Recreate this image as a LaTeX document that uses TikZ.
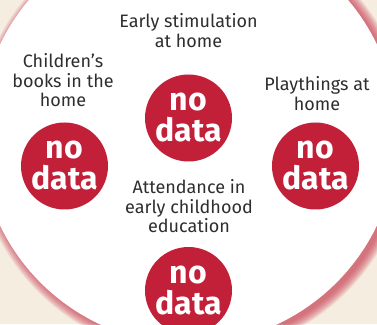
\documentclass[tikz,border=0pt]{standalone}
\usepackage{fontspec}
\setmainfont{Fira Sans}
\usepackage{tikz}
\usetikzlibrary{positioning}
\definecolor{paper}{HTML}{F6EDE1}
\definecolor{nored}{HTML}{C21F38}
\definecolor{shadowred}{HTML}{C8384E}
\definecolor{textgray}{HTML}{2E2E2E}

\begin{document}
\begin{tikzpicture}
	[x=1pt, y=1pt, inner sep=0pt,
	nodata/.style	= {circle, fill=nored, text=white, minimum size=87pt, inner sep=0pt, align=center, font=\fontsize{32}{31}\selectfont\bfseries},
	caption/.style	= {text=textgray, align=center, anchor=north, font=\fontsize{18}{19.8}\selectfont},
	ring/.style	= {fill=shadowred, opacity=0.1}]

	\useasboundingbox (0,0) rectangle (377,324);
	\fill[paper] (0,0) rectangle (377,324);

	% soft shadow of the big disc
	\foreach \k in {1,...,10}
		\fill[ring] (192.5,186) circle ({208+\k});
	\fill[white] (188.5,189) circle (209);

	\node at (188.5,206)	[nodata]	(stim)	{no\\data};
	\node at (64.5,158)	[nodata]	(books)	{no\\data};
	\node at (315.5,158)	[nodata]	(toys)	{no\\data};
	\node at (188.5,33.5)	[nodata]	(ece)	{no\\data};

	\node at (188.5,311)	[caption]	(lstim)		{Early stimulation\\at home};
	\node at (63,271)	[caption]	(lbooks)	{Children’s\\books in the\\home};
	\node at (317,248)	[caption]	(ltoys)		{Playthings at\\home};
	\node at (189,145)	[caption]	(lece)		{Attendance in\\early childhood\\education};
\end{tikzpicture}
\end{document}
